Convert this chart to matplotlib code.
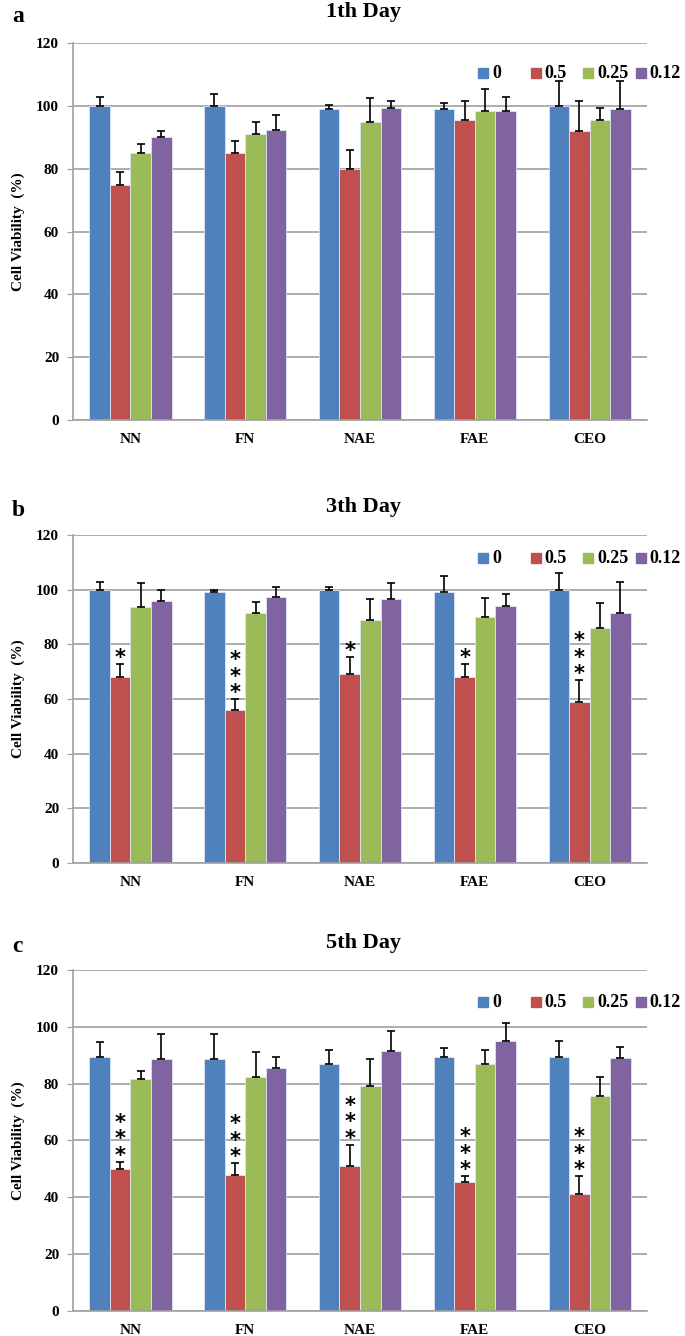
import matplotlib.pyplot as plt
from matplotlib.patches import Rectangle
import numpy as np

plt.rcParams['font.family'] = ['Liberation Serif', 'DejaVu Serif']
plt.rcParams['font.weight'] = 'bold'

categories = ["NN", "FN", "NAE", "FAE", "CEO"]
doses = ["0", "0.5", "0.25", "0.12"]
colors = ["#4F81BD", "#C0504D", "#9BBB59", "#8064A2"]

# day 1
day1_0 = [100, 100, 99, 99, 100]
day1_05 = [75, 85, 80, 95.5, 92]
day1_025 = [85, 91, 95, 98.5, 95.5]
day1_012 = [90, 92.5, 99.5, 98.5, 99]
day1_err_0 = [3, 4, 1.5, 2, 8]
day1_err_05 = [4, 4, 6, 6, 9.5]
day1_err_025 = [3, 4, 7.5, 7, 4]
day1_err_012 = [2, 4.5, 2, 4.5, 9]

# day 3
day3_0 = [100, 99, 100, 99, 100]
day3_05 = [68, 56, 69, 68, 59]
day3_025 = [93.5, 91.5, 89, 90, 86]
day3_012 = [96, 97.5, 96.5, 94, 91.5]
day3_err_0 = [3, 1, 1, 6, 6]
day3_err_05 = [5, 4, 6.5, 5, 8]
day3_err_025 = [9, 4, 7.5, 7, 9]
day3_err_012 = [4, 3.5, 6, 4.5, 11.5]
day3_stars = ["*", "*\n*\n*", "*", "*", "*\n*\n*"]

# day 5
day5_0 = [89.5, 88.5, 87, 89.5, 89.5]
day5_05 = [50, 48, 51, 45.5, 41]
day5_025 = [81.5, 82.5, 79, 87, 75.5]
day5_012 = [88.5, 85.5, 91.5, 95, 89]
day5_err_0 = [5, 9, 5, 3, 5.5]
day5_err_05 = [2.5, 4, 7.5, 2, 6.5]
day5_err_025 = [3, 8.5, 9.5, 5, 7]
day5_err_012 = [9, 4, 7, 6.5, 4]
day5_stars = ["*\n*\n*"] * 5

# letter, title, values, errors, stars, axes rect, legend y (axes frac), title y px
panels = [
    ("a", "1th Day", [day1_0, day1_05, day1_025, day1_012],
     [day1_err_0, day1_err_05, day1_err_025, day1_err_012], None,
     [0.1066, 0.6856, 0.838, 0.282], 0.92, 12),
    ("b", "3th Day", [day3_0, day3_05, day3_025, day3_012],
     [day3_err_0, day3_err_05, day3_err_025, day3_err_012], day3_stars,
     [0.1066, 0.354, 0.838, 0.2455], 0.93, 507),
    ("c", "5th Day", [day5_0, day5_05, day5_025, day5_012],
     [day5_err_0, day5_err_05, day5_err_025, day5_err_012], day5_stars,
     [0.1066, 0.0187, 0.838, 0.2553], 0.905, 943),
]

W, H = 685, 1336
fig = plt.figure(figsize=(W / 100, H / 100), dpi=100)
x = np.arange(len(categories))
w = 0.179

for letter, title, vals, errs, stars, rect, leg_y, title_px in panels:
    ax = fig.add_axes(rect)
    for i in range(4):
        pos = x + (i - 1.5) * w
        ax.bar(pos, vals[i], w, color=colors[i], edgecolor="#dce6f2",
               linewidth=0.6, zorder=2)
        ax.errorbar(pos, vals[i], yerr=[np.zeros(5), errs[i]], fmt="none",
                    ecolor="black", elinewidth=1.2, capsize=3, capthick=1.2,
                    zorder=3)
    if stars is not None:
        pos = x - 0.5 * w
        for j in range(5):
            top = vals[1][j] + errs[1][j]
            ax.annotate(stars[j], xy=(pos[j], top), xytext=(0, -3),
                        textcoords="offset points", ha="center", va="bottom",
                        fontsize=15, family="DejaVu Sans", fontweight="bold",
                        linespacing=0.78, zorder=4)
    ax.set_xlim(-0.5, 4.5)
    ax.set_ylim(0, 120)
    ax.set_yticks(range(0, 121, 20))
    ax.yaxis.grid(True, color="#a0a0a0", linewidth=1.2, zorder=0)
    ax.set_axisbelow(True)
    ax.set_xticks(x)
    ax.set_xticklabels(categories, fontsize=11, fontweight="bold")
    ax.tick_params(axis="x", length=0, pad=9)
    ax.tick_params(axis="y", labelsize=11, length=4, color="#a0a0a0", pad=6)
    for s in ["top", "right"]:
        ax.spines[s].set_visible(False)
    for s in ["left", "bottom"]:
        ax.spines[s].set_color("#a0a0a0")
        ax.spines[s].set_linewidth(1.2)
    ax.set_ylabel("Cell Viability  (%)", fontsize=11, fontweight="bold", labelpad=8)

    fig.text(0.53, 1 - title_px / H, title, fontsize=16, fontweight="bold",
             ha="center", va="center")
    fig.text(12 / W, 1 - (title_px + 4) / H, letter, fontsize=17,
             fontweight="bold", ha="left", va="center")

    # legend, equally spaced entries like the original
    ly = rect[1] + rect[3] * leg_y
    for i in range(4):
        lx = (478 + 52.5 * i) / W
        fig.add_artist(Rectangle((lx, ly - 5 / H), 10 / W, 10 / H,
                                 transform=fig.transFigure, color=colors[i]))
        fig.text(lx + 14 / W, ly, doses[i], fontsize=13, fontweight="bold",
                 ha="left", va="center")

fig.savefig("out.png", dpi=100)
